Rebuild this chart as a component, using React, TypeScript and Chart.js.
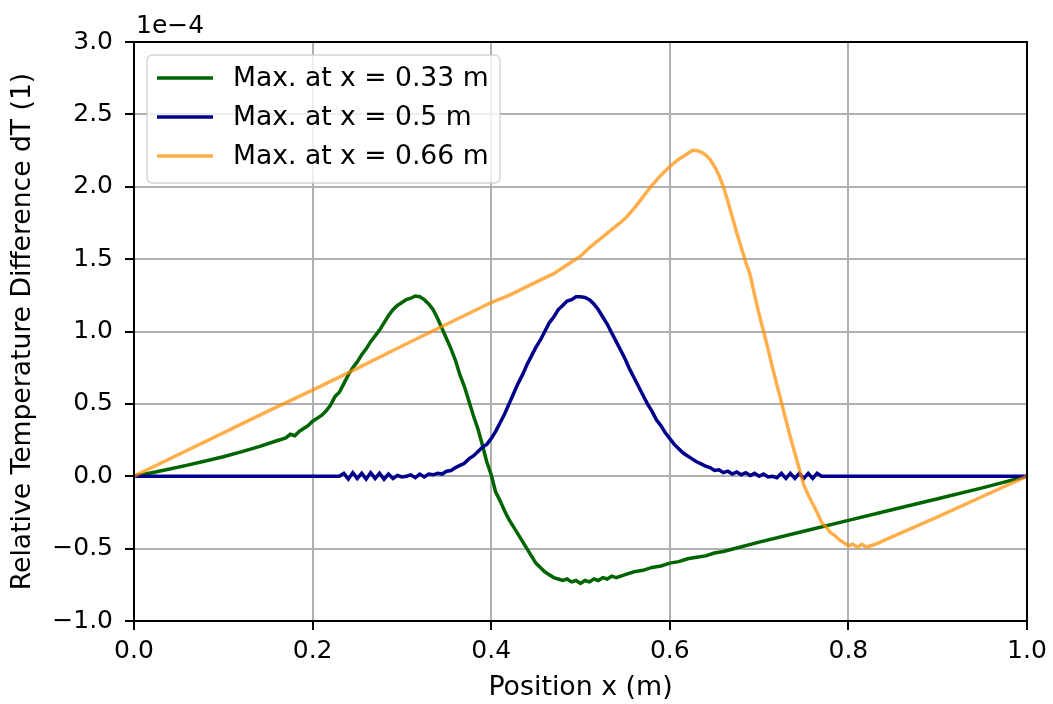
import React, { useEffect, useRef } from 'react';
import { Chart, registerables } from 'chart.js';
Chart.register(...registerables);

// ---- data (values in units of 1e-4) ----
const greenX = [0.00, 0.02, 0.04, 0.06, 0.08, 0.10, 0.12, 0.14, 0.16, 0.17, 0.175, 0.18, 0.185, 0.19, 0.195, 0.20, 0.205, 0.21, 0.215, 0.22, 0.225, 0.23, 0.235, 0.24, 0.245, 0.25, 0.255, 0.26, 0.265, 0.27, 0.275, 0.28, 0.285, 0.29, 0.295, 0.30, 0.305, 0.31, 0.315, 0.32, 0.325, 0.33, 0.335, 0.34, 0.345, 0.35, 0.355, 0.36, 0.365, 0.37, 0.375, 0.38, 0.385, 0.39, 0.395, 0.40, 0.405, 0.41, 0.415, 0.42, 0.425, 0.43, 0.435, 0.44, 0.445, 0.45, 0.455, 0.46, 0.465, 0.47, 0.475, 0.48, 0.485, 0.49, 0.495, 0.50, 0.505, 0.51, 0.515, 0.52, 0.525, 0.53, 0.535, 0.54, 0.55, 0.56, 0.57, 0.58, 0.59, 0.60, 0.61, 0.62, 0.63, 0.64, 0.65, 0.66, 0.70, 0.75, 0.80, 0.85, 0.90, 0.95, 1.00];
const greenY = [0.000, 0.024, 0.050, 0.077, 0.105, 0.135, 0.168, 0.205, 0.245, 0.265, 0.29, 0.28, 0.31, 0.33, 0.35, 0.38, 0.40, 0.42, 0.45, 0.49, 0.55, 0.58, 0.64, 0.70, 0.75, 0.79, 0.84, 0.88, 0.93, 0.97, 1.01, 1.06, 1.11, 1.15, 1.18, 1.20, 1.22, 1.23, 1.245, 1.24, 1.22, 1.19, 1.15, 1.09, 1.02, 0.95, 0.88, 0.80, 0.70, 0.62, 0.52, 0.42, 0.33, 0.22, 0.10, 0.01, -0.11, -0.17, -0.24, -0.30, -0.35, -0.40, -0.45, -0.50, -0.55, -0.60, -0.63, -0.66, -0.68, -0.70, -0.71, -0.72, -0.71, -0.73, -0.72, -0.74, -0.72, -0.73, -0.71, -0.72, -0.70, -0.71, -0.69, -0.70, -0.68, -0.66, -0.65, -0.63, -0.62, -0.60, -0.59, -0.57, -0.56, -0.55, -0.53, -0.52, -0.455, -0.38, -0.305, -0.23, -0.155, -0.08, 0.00];

const blueX = [0.00, 0.10, 0.20, 0.23, 0.235, 0.24, 0.245, 0.25, 0.255, 0.26, 0.265, 0.27, 0.275, 0.28, 0.285, 0.29, 0.295, 0.30, 0.305, 0.31, 0.315, 0.32, 0.325, 0.33, 0.335, 0.34, 0.345, 0.35, 0.355, 0.36, 0.365, 0.37, 0.375, 0.38, 0.385, 0.39, 0.395, 0.40, 0.405, 0.41, 0.415, 0.42, 0.425, 0.43, 0.435, 0.44, 0.445, 0.45, 0.455, 0.46, 0.465, 0.47, 0.475, 0.48, 0.485, 0.49, 0.495, 0.50, 0.505, 0.51, 0.515, 0.52, 0.525, 0.53, 0.535, 0.54, 0.545, 0.55, 0.555, 0.56, 0.565, 0.57, 0.575, 0.58, 0.585, 0.59, 0.595, 0.60, 0.605, 0.61, 0.615, 0.62, 0.625, 0.63, 0.635, 0.64, 0.645, 0.65, 0.655, 0.66, 0.665, 0.67, 0.675, 0.68, 0.685, 0.69, 0.695, 0.70, 0.705, 0.71, 0.715, 0.72, 0.725, 0.73, 0.735, 0.74, 0.745, 0.75, 0.755, 0.76, 0.765, 0.77, 0.80, 0.90, 1.00];
const blueY = [0, 0, 0, 0, 0.02, -0.02, 0.025, -0.015, 0.02, -0.02, 0.025, -0.015, 0.02, -0.02, 0.015, -0.015, 0.005, -0.005, 0.0, 0.01, -0.01, 0.015, -0.005, 0.015, 0.01, 0.02, 0.015, 0.035, 0.04, 0.06, 0.075, 0.09, 0.12, 0.14, 0.17, 0.20, 0.22, 0.26, 0.31, 0.37, 0.43, 0.50, 0.57, 0.64, 0.70, 0.77, 0.83, 0.89, 0.94, 1.00, 1.06, 1.10, 1.15, 1.18, 1.21, 1.22, 1.24, 1.24, 1.235, 1.22, 1.19, 1.15, 1.10, 1.05, 0.99, 0.93, 0.87, 0.81, 0.74, 0.68, 0.62, 0.56, 0.50, 0.45, 0.39, 0.35, 0.30, 0.26, 0.22, 0.19, 0.16, 0.14, 0.12, 0.10, 0.085, 0.07, 0.06, 0.04, 0.045, 0.025, 0.035, 0.015, 0.03, 0.01, 0.025, 0.005, 0.02, 0.0, 0.015, -0.005, 0.0, -0.01, 0.02, -0.015, 0.02, -0.015, 0.02, -0.015, 0.02, -0.015, 0.02, 0, 0, 0, 0];

const orangeX = [0.00, 0.05, 0.10, 0.15, 0.20, 0.25, 0.30, 0.35, 0.40, 0.42, 0.44, 0.46, 0.47, 0.48, 0.49, 0.50, 0.51, 0.52, 0.53, 0.54, 0.55, 0.56, 0.57, 0.58, 0.59, 0.60, 0.61, 0.62, 0.625, 0.63, 0.635, 0.64, 0.645, 0.65, 0.655, 0.66, 0.665, 0.67, 0.675, 0.68, 0.685, 0.69, 0.695, 0.70, 0.705, 0.71, 0.715, 0.72, 0.725, 0.73, 0.735, 0.74, 0.745, 0.75, 0.755, 0.76, 0.765, 0.77, 0.775, 0.78, 0.785, 0.79, 0.795, 0.80, 0.805, 0.81, 0.815, 0.82, 0.825, 0.83, 0.85, 0.90, 0.95, 1.00];
const orangeY = [0, 0.15, 0.30, 0.45, 0.595, 0.745, 0.90, 1.05, 1.20, 1.25, 1.31, 1.37, 1.40, 1.44, 1.48, 1.52, 1.58, 1.63, 1.68, 1.73, 1.78, 1.85, 1.93, 2.01, 2.08, 2.14, 2.19, 2.23, 2.25, 2.25, 2.24, 2.22, 2.19, 2.14, 2.08, 2.00, 1.90, 1.79, 1.68, 1.58, 1.48, 1.39, 1.25, 1.12, 1.00, 0.88, 0.75, 0.63, 0.51, 0.39, 0.27, 0.16, 0.05, -0.06, -0.13, -0.19, -0.25, -0.32, -0.35, -0.39, -0.41, -0.44, -0.46, -0.48, -0.47, -0.49, -0.47, -0.49, -0.48, -0.47, -0.415, -0.28, -0.14, 0];

const seriesLabels = ['Max. at x = 0.33 m', 'Max. at x = 0.5 m', 'Max. at x = 0.66 m'];
const seriesColors = ['#006400', '#00008b', 'rgba(255,140,0,0.7)'];
const xTicks = [0.0, 0.2, 0.4, 0.6, 0.8, 1.0];
const yTicks = [-1.0, -0.5, 0.0, 0.5, 1.0, 1.5, 2.0, 2.5, 3.0];
const xTitle = 'Position x (m)';
const yTitle = 'Relative Temperature Difference dT (1)';
const offsetText = '1e\u22124';

const FONT = "'DejaVu Sans', sans-serif";
const FS = 25;

function fmt(v: number) {
  const s = Math.abs(v).toFixed(1);
  return v < -1e-9 ? '\u2212' + s : s;
}

export default function App() {
  const ref = useRef<HTMLCanvasElement | null>(null);
  useEffect(() => {
    document.body.style.margin = '0';
    const canvas = ref.current!;
    const zip = (xs: number[], ys: number[]) => xs.map((x, i) => ({ x, y: ys[i] }));
    const series = [zip(greenX, greenY), zip(blueX, blueY), zip(orangeX, orangeY)];

    const framePlugin = {
      id: 'frame',
      afterDatasetsDraw(chart: any) {
        const { ctx, chartArea: a } = chart;
        ctx.save();
        ctx.strokeStyle = '#000';
        ctx.lineWidth = 2;
        ctx.strokeRect(a.left, a.top, a.right - a.left, a.bottom - a.top);
        ctx.restore();
      },
      afterDraw(chart: any) {
        const { ctx, chartArea: a } = chart;
        ctx.save();
        // offset text
        ctx.fillStyle = '#000';
        ctx.font = `${FS}px ${FONT}`;
        ctx.textAlign = 'left';
        ctx.textBaseline = 'alphabetic';
        ctx.fillText(offsetText, a.left + 2, 33);
        // y title
        ctx.save();
        ctx.translate(23, (a.top + a.bottom) / 2);
        ctx.rotate(-Math.PI / 2);
        ctx.font = `26.6px ${FONT}`;
        ctx.textAlign = 'center';
        ctx.textBaseline = 'middle';
        ctx.fillText(yTitle, 0, 0);
        ctx.restore();
        // legend
        const bx = 147, by = 55, bw = 353, bh = 128, r = 6;
        ctx.beginPath();
        ctx.moveTo(bx + r, by);
        ctx.lineTo(bx + bw - r, by);
        ctx.quadraticCurveTo(bx + bw, by, bx + bw, by + r);
        ctx.lineTo(bx + bw, by + bh - r);
        ctx.quadraticCurveTo(bx + bw, by + bh, bx + bw - r, by + bh);
        ctx.lineTo(bx + r, by + bh);
        ctx.quadraticCurveTo(bx, by + bh, bx, by + bh - r);
        ctx.lineTo(bx, by + r);
        ctx.quadraticCurveTo(bx, by, bx + r, by);
        ctx.closePath();
        ctx.fillStyle = 'rgba(255,255,255,0.8)';
        ctx.fill();
        ctx.strokeStyle = 'rgba(204,204,204,0.8)';
        ctx.lineWidth = 1.5;
        ctx.stroke();
        const rows = [78, 117, 156];
        ctx.font = `26.6px ${FONT}`;
        chart.data.datasets.forEach((ds: any, i: number) => {
          const y = rows[i];
          ctx.beginPath();
          ctx.moveTo(157, y);
          ctx.lineTo(213, y);
          ctx.strokeStyle = ds.borderColor;
          ctx.lineWidth = 3.5;
          ctx.stroke();
          ctx.fillStyle = '#000';
          ctx.textAlign = 'left';
          ctx.textBaseline = 'middle';
          ctx.fillText(ds.label, 233, y + 1);
        });
        ctx.restore();
      },
    };

    const chart = new Chart(canvas, {
      type: 'line',
      data: {
        datasets: series.map((d, i) => ({
          label: seriesLabels[i],
          data: d,
          borderColor: seriesColors[i],
          backgroundColor: seriesColors[i],
          borderWidth: 3.5,
          pointRadius: 0,
          tension: 0,
          fill: false,
          order: 3 - i,
        })),
      },
      options: {
        responsive: false,
        animation: false,
        devicePixelRatio: 1,
        layout: { padding: { left: 0, top: 42, right: 26, bottom: 0 } },
        plugins: { legend: { display: false }, tooltip: { enabled: false } },
        scales: {
          x: {
            type: 'linear',
            min: 0,
            max: 1,
            afterBuildTicks: (s: any) => { s.ticks = xTicks.map((v) => ({ value: v })); },
            afterFit: (s: any) => { s.height = 83; },
            ticks: {
              callback: (v: any) => fmt(Number(v)),
              color: '#000',
              font: { family: FONT, size: FS },
              padding: 6,
              maxRotation: 0,
              autoSkip: false,
            },
            grid: { color: '#b0b0b0', lineWidth: 2, tickColor: '#000', tickWidth: 2, tickLength: 9, drawTicks: true },
            border: { display: false },
            title: { display: true, text: xTitle, color: '#000', font: { family: FONT, size: 26.8 }, padding: { top: 0, bottom: 0 } },
          },
          y: {
            type: 'linear',
            min: -1,
            max: 3,
            afterBuildTicks: (s: any) => { s.ticks = yTicks.map((v) => ({ value: v })); },
            afterFit: (s: any) => { s.width = 134; },
            ticks: {
              callback: (v: any) => fmt(Number(v)),
              color: '#000',
              font: { family: FONT, size: FS },
              padding: 12,
              autoSkip: false,
            },
            grid: { color: '#b0b0b0', lineWidth: 2, tickColor: '#000', tickWidth: 2, tickLength: 9, drawTicks: true },
            border: { display: false },
            title: { display: false },
          },
        },
      },
      plugins: [framePlugin],
    } as any);
    return () => chart.destroy();
  }, []);
  return (
    <div style={{ width: 1053, height: 704 }}>
      <canvas ref={ref} width={1053} height={704} style={{ display: 'block' }} />
    </div>
  );
}
